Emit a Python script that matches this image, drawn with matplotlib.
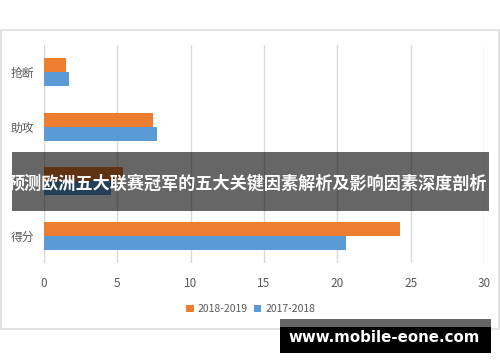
import matplotlib.pyplot as plt
from matplotlib.patches import Rectangle

plt.rcParams['font.family'] = ['Noto Sans CJK SC', 'DejaVu Sans']

# data
categories = ['抢断', '助攻', '篮板', '得分']
season_2018_2019 = [1.5, 7.4, 5.4, 24.3]
season_2017_2018 = [1.7, 7.7, 4.6, 20.6]
series_labels = ['2018-2019', '2017-2018']
x_ticks = [0, 5, 10, 15, 20, 25, 30]
banner_title = '预测欧洲五大联赛冠军的五大关键因素解析及影响因素深度剖析'
watermark = 'www.mobile-eone.com'

W, H = 500, 362
orange = '#ED7D31'
blue = '#5B9BD5'
grey_text = '#595959'


def fx(px):
    return px / W


def fy(py):
    return 1 - py / H


fig = plt.figure(figsize=(W / 100, H / 100), dpi=100)

# light frame around the chart
fig.patches.append(Rectangle((fx(1), fy(329)), fx(498), 299 / H, transform=fig.transFigure,
                             fill=False, edgecolor='#DDDDDD', linewidth=1.2, zorder=0))

ax = fig.add_axes([fx(44), fy(263), fx(440), 218 / H])
ypos = list(range(len(categories)))
bh = 0.26
ax.barh([y - bh / 2 for y in ypos], season_2018_2019, height=bh, color=orange, label=series_labels[0], zorder=3)
ax.barh([y + bh / 2 for y in ypos], season_2017_2018, height=bh, color=blue, label=series_labels[1], zorder=3)

ax.set_xlim(0, 30)
ax.set_ylim(3.5, -0.5)
ax.set_xticks(x_ticks)
ax.set_yticks(ypos)
ax.set_yticklabels(categories)
ax.grid(axis='x', color='#D9D9D9', linewidth=1, zorder=0)
for s in ax.spines.values():
    s.set_visible(False)
ax.tick_params(axis='both', length=0, colors=grey_text, labelsize=8.5)
ax.tick_params(axis='x', pad=10)
ax.tick_params(axis='y', pad=7)
ax.set_facecolor('none')
# the third category label sits under the banner and cannot be seen in the picture
ax.get_yticklabels()[2].set_visible(False)

fig.legend(loc='center', bbox_to_anchor=(fx(251), fy(309)), ncol=2, frameon=False,
           fontsize=7.5, handlelength=0.7, handleheight=0.7, handletextpad=0.4,
           columnspacing=0.6, labelcolor=grey_text)

# dark banner with the title
fig.patches.append(Rectangle((fx(12), fy(211)), fx(477), 59 / H, transform=fig.transFigure,
                             facecolor='black', alpha=0.6, edgecolor='none', zorder=5))
fig.text(fx(247), fy(184), banner_title, color='white', fontsize=12.3, fontweight='bold',
         ha='center', va='center', zorder=6)

# watermark box
fig.patches.append(Rectangle((fx(280), fy(327)), fx(211), 8 / H, transform=fig.transFigure,
                             facecolor='#666666', edgecolor='none', zorder=5))
fig.patches.append(Rectangle((fx(280), fy(353)), fx(211), 26 / H, transform=fig.transFigure,
                             facecolor='black', edgecolor='none', zorder=5))
fig.text(fx(384), fy(337), watermark, color='white', fontsize=10.8, fontweight='bold',
         family='DejaVu Sans', ha='center', va='center', zorder=6)

fig.savefig('out.png', dpi=100)
